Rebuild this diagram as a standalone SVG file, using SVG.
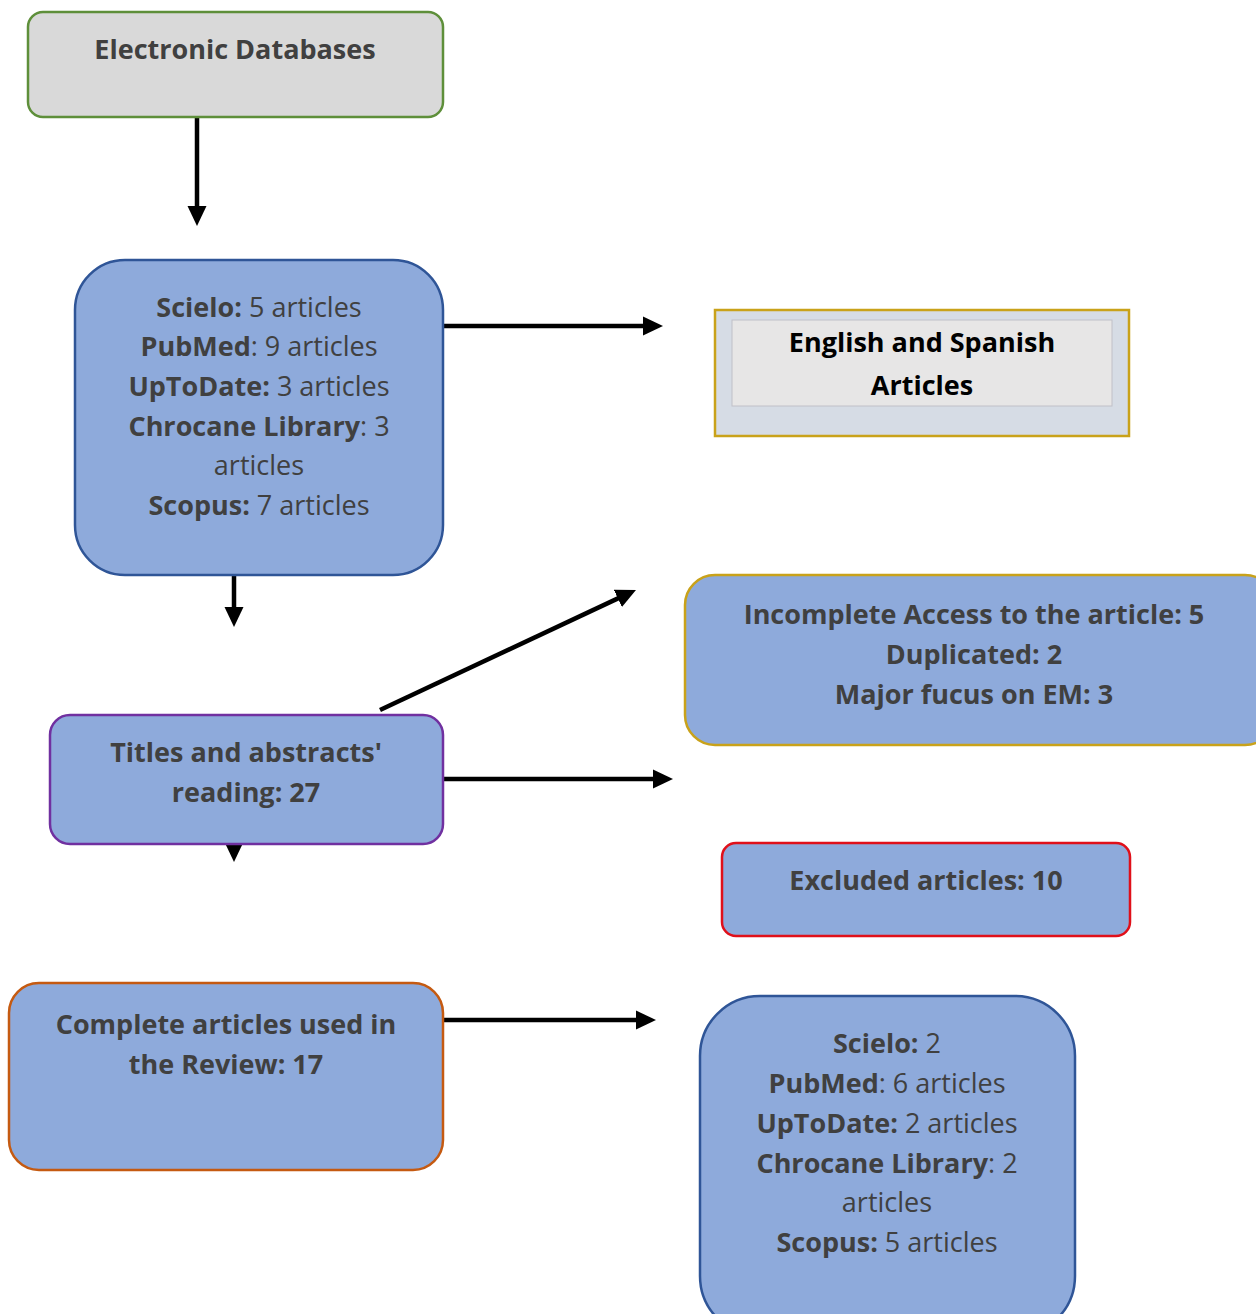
<svg xmlns="http://www.w3.org/2000/svg" width="1256" height="1314" viewBox="0 0 1256 1314">
<style>
.t{font-family:"Open Sans","Noto Sans","Liberation Sans",sans-serif;font-size:27px;fill:#404040;text-anchor:middle}
.b{font-weight:bold}
.blue{fill:#8eaadb;stroke-width:2.5}
.c{stroke:#000;stroke-width:4.5;fill:none}
</style>
<defs>
<marker id="ah" markerUnits="userSpaceOnUse" markerWidth="22" markerHeight="20" refX="6" refY="10" orient="auto">
<path d="M0,0.5 L20,10 L0,19.5 Z" fill="#000"/>
</marker>
</defs>
<rect width="1256" height="1314" fill="#fff"/>
<g id="connectors">
<line class="c" x1="197" y1="118" x2="197" y2="212" marker-end="url(#ah)"/>
<line class="c" x1="443" y1="326" x2="649" y2="326" marker-end="url(#ah)"/>
<line class="c" x1="234" y1="575" x2="234" y2="613" marker-end="url(#ah)"/>
<line class="c" x1="380" y1="710" x2="623.3" y2="595.9" marker-end="url(#ah)"/>
<line class="c" x1="443" y1="779" x2="659" y2="779" marker-end="url(#ah)"/>
<line class="c" x1="234" y1="844" x2="234" y2="848" marker-end="url(#ah)"/>
<line class="c" x1="443" y1="1020" x2="642" y2="1020" marker-end="url(#ah)"/>
</g>
<g id="electronic">
<rect x="28" y="12" width="415" height="105" rx="15" fill="#d9d9d9" stroke="#5e8f3a" stroke-width="2.5"/>
<text class="t b" x="235" y="59">Electronic Databases</text>
</g>
<g id="sources">
<rect class="blue" x="75" y="260" width="368" height="315" rx="50" stroke="#2f5597"/>
<text class="t" x="259" y="317"><tspan class="b">Scielo:</tspan> 5 articles</text>
<text class="t" x="259" y="356"><tspan class="b">PubMed</tspan>: 9 articles</text>
<text class="t" x="259" y="396"><tspan class="b">UpToDate:</tspan> 3 articles</text>
<text class="t" x="259" y="436"><tspan class="b">Chrocane Library</tspan>: 3</text>
<text class="t" x="259" y="475">articles</text>
<text class="t" x="259" y="515"><tspan class="b">Scopus:</tspan> 7 articles</text>
</g>
<g id="language">
<rect x="715" y="310" width="414" height="126" fill="#d6dce5" stroke="#c9a21a" stroke-width="2.5"/>
<rect x="732" y="320" width="380" height="86" fill="#e7e6e6" stroke="#c0c0c8" stroke-width="1"/>
<text class="t b" x="922" y="352" style="fill:#000">English and Spanish</text>
<text class="t b" x="922" y="395" style="fill:#000">Articles</text>
</g>
<g id="reasons">
<rect class="blue" x="685" y="575" width="590" height="170" rx="30" stroke="#c9a21a"/>
<text class="t b" x="974" y="624">Incomplete Access to the article: 5</text>
<text class="t b" x="974" y="664">Duplicated: 2</text>
<text class="t b" x="974" y="704">Major fucus on EM: 3</text>
</g>
<g id="titles">
<rect class="blue" x="50" y="715" width="393" height="129" rx="20" stroke="#7030a0"/>
<text class="t b" x="246" y="762">Titles and abstracts'</text>
<text class="t b" x="246" y="802">reading: 27</text>
</g>
<g id="excluded">
<rect class="blue" x="722" y="843" width="408" height="93" rx="14" stroke="#e0101a"/>
<text class="t b" x="926" y="890">Excluded articles: 10</text>
</g>
<g id="complete">
<rect class="blue" x="9" y="983" width="434" height="187" rx="30" stroke="#c55a11"/>
<text class="t b" x="226" y="1034">Complete articles used in</text>
<text class="t b" x="226" y="1074">the Review: 17</text>
</g>
<g id="final">
<rect class="blue" x="700" y="996" width="375" height="340" rx="60" stroke="#2f5597"/>
<text class="t" x="887" y="1053"><tspan class="b">Scielo:</tspan> 2</text>
<text class="t" x="887" y="1093"><tspan class="b">PubMed</tspan>: 6 articles</text>
<text class="t" x="887" y="1133"><tspan class="b">UpToDate:</tspan> 2 articles</text>
<text class="t" x="887" y="1173"><tspan class="b">Chrocane Library</tspan>: 2</text>
<text class="t" x="887" y="1212">articles</text>
<text class="t" x="887" y="1252"><tspan class="b">Scopus:</tspan> 5 articles</text>
</g>
</svg>
